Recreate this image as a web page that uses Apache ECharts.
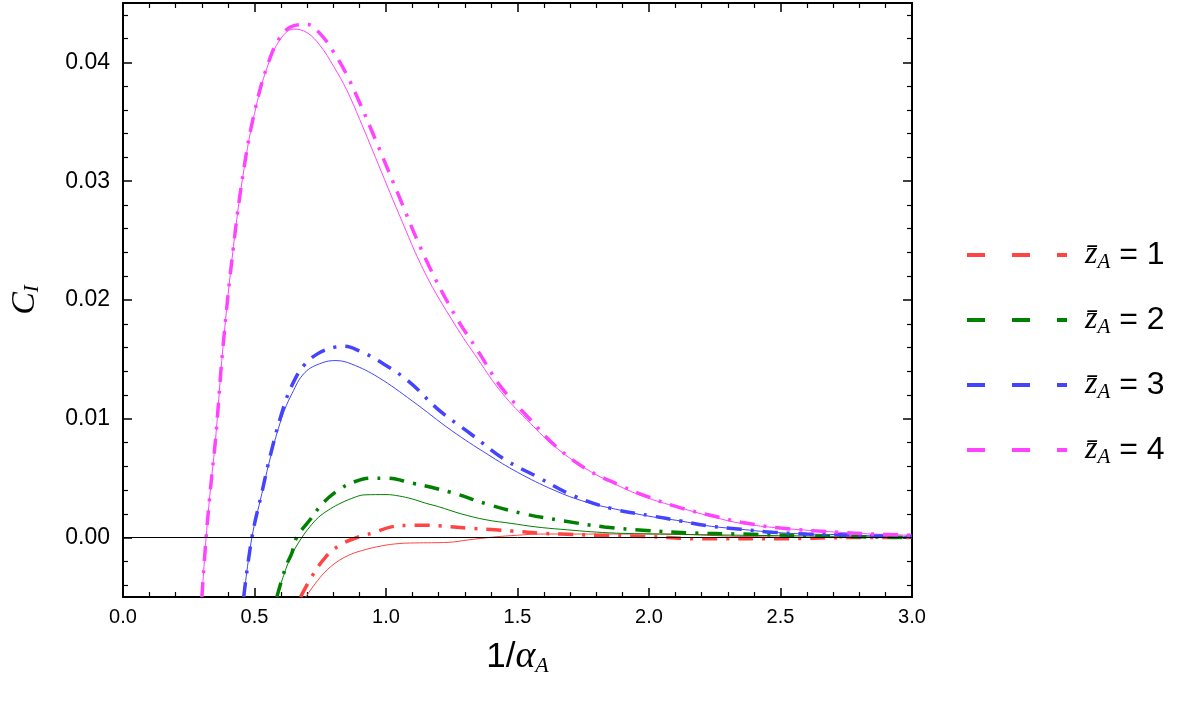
<!DOCTYPE html>
<html>
<head>
<meta charset="utf-8">
<script src="https://cdn.jsdelivr.net/npm/echarts@6/dist/echarts.min.js"></script>
<style>
  html, body { margin: 0; padding: 0; background: #fff; }
  #chart { width: 1185px; height: 705px; }
</style>
</head>
<body>
<div id="chart"></div>
<script>
// C_I versus 1/alpha_A for four values of z̄_A.
// Each z̄_A has a thin solid curve and a thick dash-dot curve.

const zValues = [1, 2, 3, 4];
const colors = ['#ff4444', '#008000', '#4444ff', '#ff44ff'];

// z̄_A = 1
const z1Solid = [[0.695,-0.0050],[0.73,-0.0039],[0.768,-0.0029],[0.81,-0.0021],[0.857,-0.0015],[0.907,-0.0011],
  [0.983,-0.0007],[1.05,-0.0005],[1.109,-0.00045],[1.236,-0.0004],[1.311,-0.0002],[1.41,0.00005],[1.50,0.0002],
  [1.589,0.0003],[1.80,0.0003],[2.04,0.0003],[2.35,0.0001],[2.72,0.0],[3.0,0.0]];
const z1DashDot = [[0.675,-0.0050],[0.72,-0.0032],[0.768,-0.0017],[0.82,-0.0007],[0.876,-0.0001],[0.95,0.0004],
  [1.02,0.0009],[1.08,0.00103],[1.146,0.00105],[1.20,0.0010],[1.311,0.0008],[1.40,0.00068],[1.48,0.00055],
  [1.60,0.00035],[1.665,0.0003],[1.80,0.0002],[1.98,0.0001],[2.2,-0.0001],[2.5,-0.0001],[2.75,0.0],[3.0,0.0]];

// z̄_A = 2
const z2Solid = [[0.585,-0.0050],[0.62,-0.0026],[0.65,-0.0011],[0.68,0.0],[0.71,0.0009],[0.743,0.0017],[0.78,0.0023],
  [0.819,0.0028],[0.87,0.0033],[0.92,0.0036],[1.00,0.00362],[1.05,0.0035],[1.10,0.00325],[1.15,0.0029],[1.20,0.0026],
  [1.286,0.0020],[1.38,0.0015],[1.475,0.0012],[1.57,0.0009],[1.665,0.0007],[1.85,0.0004],[2.04,0.0003],[2.35,0.0002],
  [2.72,0.0001],[3.0,0.0]];
const z2DashDot = [[0.585,-0.0050],[0.62,-0.0024],[0.642,-0.0013],[0.66,0.0],[0.711,0.0015],[0.76,0.0029],[0.819,0.0040],
  [0.88,0.0047],[0.945,0.0050],[1.00,0.0050],[1.097,0.0046],[1.248,0.0038],[1.387,0.0028],[1.525,0.0020],[1.677,0.0014],
  [1.83,0.0009],[1.99,0.0006],[2.15,0.0004],[2.35,0.0003],[2.72,0.0001],[3.0,0.0]];

// z̄_A = 3
const z3Solid = [[0.459,-0.0050],[0.49,0.0],[0.528,0.0037],[0.56,0.0067],[0.604,0.0101],[0.642,0.0121],[0.692,0.0139],
  [0.756,0.0147],[0.81,0.0149],[0.87,0.0146],[0.97,0.0135],[1.10,0.0115],[1.25,0.0090],[1.387,0.0070],[1.50,0.0055],
  [1.638,0.0040],[1.76,0.0030],[1.892,0.0023],[2.00,0.0018],[2.12,0.0014],[2.22,0.0010],[2.35,0.0007],[2.47,0.00045],
  [2.60,0.0003],[2.725,0.00025],[2.85,0.00015],[3.0,0.0001]];
const z3DashDot = [[0.459,-0.0050],[0.49,0.0],[0.528,0.0038],[0.56,0.0069],[0.604,0.0105],[0.642,0.0128],[0.692,0.0146],
  [0.75,0.0156],[0.80,0.0160],[0.84,0.0161],[0.90,0.0157],[0.97,0.0149],[1.084,0.0132],[1.198,0.0108],[1.324,0.0087],
  [1.45,0.0066],[1.577,0.0051],[1.715,0.0035],[1.866,0.0024],[2.017,0.0018],[2.12,0.0014],[2.22,0.0010],[2.35,0.0007],
  [2.47,0.00045],[2.60,0.0003],[2.725,0.00025],[2.85,0.00015],[3.0,0.0001]];

// z̄_A = 4
const z4Solid = [[0.300,-0.0050],[0.316,0.0],[0.333,0.0042],[0.352,0.0083],[0.38,0.0160],[0.42,0.0245],[0.46,0.0310],
  [0.50,0.0357],[0.55,0.0397],[0.60,0.0420],[0.65,0.0428],[0.70,0.0425],[0.75,0.0414],[0.80,0.0397],[0.85,0.0377],
  [0.90,0.0352],[0.96,0.0320],[1.05,0.0272],[1.15,0.0222],[1.26,0.0180],[1.35,0.0150],[1.44,0.0122],[1.55,0.0096],
  [1.64,0.0077],[1.76,0.0058],[1.89,0.0043],[2.00,0.0033],[2.12,0.0025],[2.25,0.0017],[2.35,0.0012],[2.50,0.0008],
  [2.72,0.00045],[2.85,0.0003],[3.0,0.0002]];
const z4DashDot = [[0.300,-0.0050],[0.316,0.0],[0.333,0.0042],[0.352,0.0083],[0.38,0.0160],[0.42,0.0245],[0.46,0.0311],
  [0.50,0.0358],[0.55,0.0398],[0.60,0.0422],[0.65,0.0431],[0.70,0.0432],[0.75,0.0424],[0.80,0.0409],[0.85,0.0390],
  [0.90,0.0366],[0.96,0.0335],[1.05,0.0287],[1.15,0.0235],[1.26,0.0188],[1.35,0.0157],[1.44,0.0126],[1.55,0.0099],
  [1.64,0.0078],[1.76,0.0058],[1.89,0.0044],[2.00,0.0034],[2.12,0.0025],[2.25,0.0018],[2.35,0.0013],[2.50,0.0008],
  [2.72,0.00045],[2.85,0.0003],[3.0,0.0002]];

const solidCurves = [z1Solid, z2Solid, z3Solid, z4Solid];
const dashDotCurves = [z1DashDot, z2DashDot, z3DashDot, z4DashDot];

const xRange = [0, 3];
const yRange = [-0.005, 0.045];

const SANS = 'Liberation Sans, Arial, sans-serif';
const SERIF = 'Liberation Serif, Times New Roman, serif';
const DASH_DOT = [15, 9, 3, 9];

const chart = echarts.init(document.getElementById('chart'), null, { renderer: 'canvas' });

const frameLine = { show: true, onZero: false, lineStyle: { color: '#000', width: 2 } };
const majorTick = { show: true, inside: true, length: 9, lineStyle: { color: '#000', width: 1.5 } };
const minorTick = { show: true, splitNumber: 5, length: 5, lineStyle: { color: '#000', width: 1.2 } };

function xAxisDef(pos, withLabels) {
  return {
    type: 'value', position: pos, min: xRange[0], max: xRange[1], interval: 0.5,
    axisLine: frameLine, axisTick: majorTick, minorTick: minorTick,
    splitLine: { show: false }, minorSplitLine: { show: false },
    axisLabel: {
      show: withLabels, margin: 10, color: '#000', fontSize: 20, fontFamily: SANS,
      formatter: v => v.toFixed(1)
    }
  };
}
function yAxisDef(pos, withLabels) {
  return {
    type: 'value', position: pos, min: yRange[0], max: yRange[1], splitNumber: 5,
    axisLine: frameLine, axisTick: majorTick, minorTick: minorTick,
    splitLine: { show: false }, minorSplitLine: { show: false },
    axisLabel: {
      show: withLabels, margin: 13, color: '#000', fontSize: 23, fontFamily: SANS,
      showMinLabel: false, showMaxLabel: false,
      formatter: v => v.toFixed(2)
    }
  };
}

const xBottom = xAxisDef('bottom', true);
xBottom.name = '{n|1/}{a|α}{s|A}';
xBottom.nameLocation = 'middle';
xBottom.nameGap = 40;
xBottom.nameTextStyle = {
  rich: {
    n: { fontFamily: SANS, fontSize: 35, color: '#000', lineHeight: 40 },
    a: { fontFamily: SERIF, fontStyle: 'italic', fontSize: 38, color: '#000', lineHeight: 40 },
    s: { fontFamily: SERIF, fontStyle: 'italic', fontSize: 22, color: '#000', lineHeight: 22, verticalAlign: 'bottom' }
  }
};

const yLeft = yAxisDef('left', true);
yLeft.name = '{c|C}{s|I}';
yLeft.nameLocation = 'middle';
yLeft.nameGap = 80;
yLeft.nameTextStyle = {
  rich: {
    c: { fontFamily: SERIF, fontStyle: 'italic', fontSize: 34, color: '#000', lineHeight: 36 },
    s: { fontFamily: SERIF, fontStyle: 'italic', fontSize: 21, color: '#000', lineHeight: 21, verticalAlign: 'bottom' }
  }
};

const curveCommon = { type: 'line', xAxisIndex: 0, yAxisIndex: 0, showSymbol: false, symbol: 'none',
  smooth: 0.4, clip: true };

const series = [];
zValues.forEach((z, i) => {
  series.push(Object.assign({}, curveCommon, {
    name: 'z' + z + ' solid', data: solidCurves[i],
    lineStyle: { color: colors[i], width: 1 }, itemStyle: { color: colors[i] }, z: 3
  }));
});
zValues.forEach((z, i) => {
  series.push(Object.assign({}, curveCommon, {
    name: 'z' + z, data: dashDotCurves[i],
    lineStyle: { color: colors[i], width: 3.5, type: DASH_DOT, cap: 'butt' }, itemStyle: { color: colors[i] }, z: 4
  }));
});
// horizontal reference line at C_I = 0
series[0].markLine = {
  silent: true, symbol: ['none', 'none'], label: { show: false }, animation: false,
  lineStyle: { color: '#000', width: 1, type: 'solid' },
  data: [{ yAxis: 0 }]
};

const option = {
  backgroundColor: '#fff',
  animation: false,
  grid: { left: 121, top: 3, width: 791, height: 594, containLabel: false },
  xAxis: [xBottom, xAxisDef('top', false)],
  yAxis: [yLeft, yAxisDef('right', false)],
  legend: {
    orient: 'vertical', left: 962, top: 234,
    itemWidth: 100, itemHeight: 4, itemGap: 31,
    selectedMode: false,
    data: zValues.map(z => ({ name: 'z' + z, icon: 'path://M0 0H18V4H0Z M45 0H63V4H45Z M90 0H100V4H90Z' })),
    formatter: name => '{z|z\u0304}{s|A}{e| = ' + name.slice(1) + '}',
    textStyle: {
      padding: [0, 0, 0, 13],
      rich: {
        z: { fontFamily: SERIF, fontStyle: 'italic', fontSize: 32, color: '#000', lineHeight: 36 },
        s: { fontFamily: SERIF, fontStyle: 'italic', fontSize: 21, color: '#000', lineHeight: 21, verticalAlign: 'bottom' },
        e: { fontFamily: SANS, fontSize: 32, color: '#000', lineHeight: 36 }
      }
    }
  },
  series: series
};

chart.setOption(option);
</script>
</body>
</html>
